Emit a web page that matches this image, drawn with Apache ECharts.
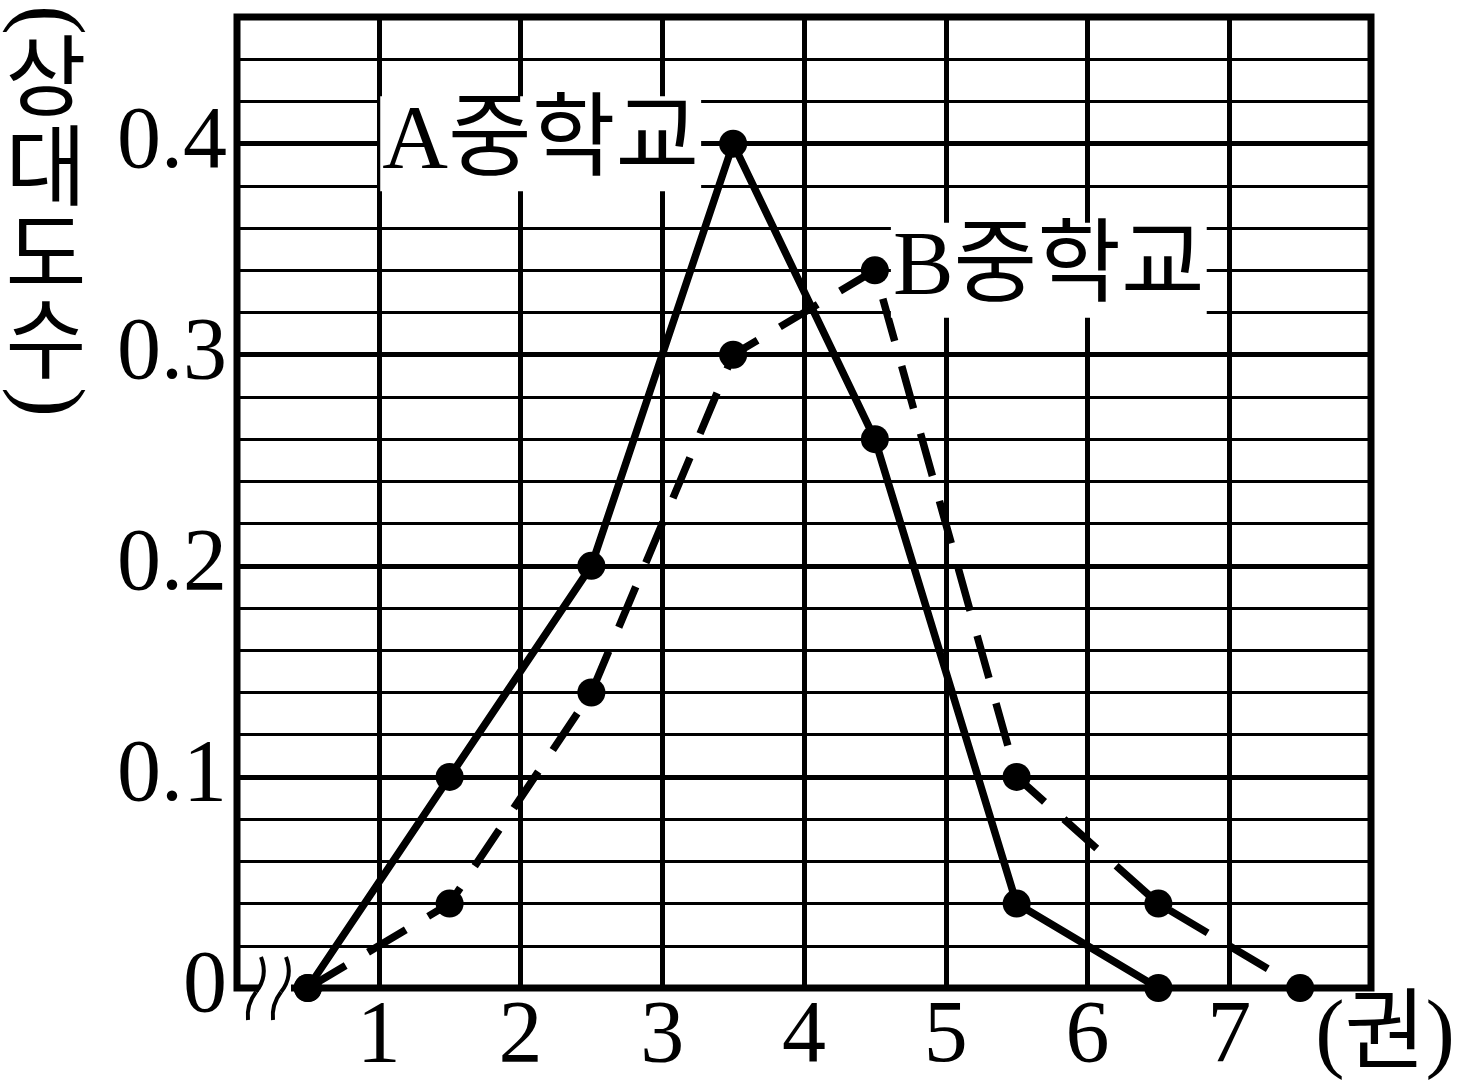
<!DOCTYPE html>
<html><head><meta charset="utf-8">
<script src="https://cdn.jsdelivr.net/npm/echarts@6/dist/echarts.min.js"></script>
<style>html,body{margin:0;padding:0;background:#fff}#c{width:1466px;height:1092px}</style>
</head><body><div id="c"></div>
<script>
// ---- data ----
const classMarks = [0.5, 1.5, 2.5, 3.5, 4.5, 5.5, 6.5, 7.5];
const schoolA = [0, 0.1, 0.2, 0.4, 0.26, 0.04, 0, null];
const schoolB = [0, 0.04, 0.14, 0.3, 0.34, 0.1, 0.04, 0];
const seriesNames = ['A중학교', 'B중학교'];
const xTickLabels = ['1', '2', '3', '4', '5', '6', '7'];
const yTickLabels = ['0', '0.1', '0.2', '0.3', '0.4'];
const yAxisTitle = ['상', '대', '도', '수'];
const xAxisTitle = '(권)';

const FONT = "'Liberation Serif','Noto Sans CJK KR',serif";
const chart = echarts.init(document.getElementById('c'), null, {renderer: 'canvas'});

function buildData(vals, labelPos, name, dist) {
  let maxI = 0;
  vals.forEach((v, i) => { if (v != null && v > vals[maxI]) maxI = i; });
  const out = [];
  vals.forEach((v, i) => {
    if (v == null) return;
    const item = {value: [classMarks[i], v]};
    if (i === maxI) {
      item.label = {
        show: true, position: labelPos, distance: dist, formatter: name,
        fontFamily: FONT, fontSize: 91, color: '#000',
        backgroundColor: '#fff', padding: [4, 2, 0, 2]
      };
    }
    out.push(item);
  });
  return out;
}

const option = {
  animation: false,
  backgroundColor: '#fff',
  grid: {left: 237, right: 95, top: 17, bottom: 104, show: true, borderWidth: 7, borderColor: '#000', backgroundColor: 'transparent', z: 3},
  xAxis: {
    type: 'value', min: 0, max: 8, interval: 1,
    axisLine: {show: false}, axisTick: {show: false},
    splitLine: {show: true, lineStyle: {color: '#000', width: 5}},
    axisLabel: {
      margin: 6, fontFamily: FONT, fontSize: 88, color: '#000',
      formatter: v => (v >= 1 && v <= 7 && Math.abs(v - Math.round(v)) < 1e-6) ? xTickLabels[Math.round(v) - 1] : ''
    }
  },
  yAxis: [{
    type: 'value', min: 0, max: 0.46, interval: 0.1,
    axisLine: {show: false}, axisTick: {show: false},
    splitLine: {show: true, lineStyle: {color: '#000', width: 5}},
    axisLabel: {
      margin: 10, fontFamily: FONT, fontSize: 88, color: '#000',
      formatter: v => {
        const k = Math.round(v * 10);
        if (Math.abs(v * 10 - k) < 1e-6 && k >= 0 && k < yTickLabels.length) return yTickLabels[k];
        return '';
      }
    }
  }, {
    type: 'value', min: 0, max: 0.46, interval: 0.02, position: 'left',
    axisLine: {show: false}, axisTick: {show: false}, axisLabel: {show: false},
    splitLine: {show: true, lineStyle: {color: '#000', width: 3}}
  }],
  series: [{
    name: seriesNames[1], type: 'line', z: 4,
    data: buildData(schoolB, 'right', seriesNames[1], 2),
    symbol: 'circle', symbolSize: 28,
    itemStyle: {color: '#000'},
    lineStyle: {color: '#000', width: 7.5, type: [44, 26], cap: 'butt'}
  }, {
    name: seriesNames[0], type: 'line', z: 5,
    data: buildData(schoolA, 'left', seriesNames[0], 18),
    symbol: 'circle', symbolSize: 28,
    itemStyle: {color: '#000'},
    lineStyle: {color: '#000', width: 7.5, type: 'solid'}
  }]
};
chart.setOption(option);

// decorations: axis titles and the axis-break mark near the origin
const o = chart.convertToPixel({gridIndex: 0}, [0, 0]);
const ox = o[0], oy = o[1];
const g = [];
const titleX = 46;
g.push({type: 'text', x: titleX, y: 20, rotation: -Math.PI / 2, style: {text: '(', font: "90px 'Liberation Serif'", fill: '#000', textAlign: 'center', textVerticalAlign: 'middle'}});
const ys = [75, 165, 252, 338];
yAxisTitle.forEach((ch, i) => {
  g.push({type: 'text', x: titleX, y: ys[i], style: {text: ch, font: "88px 'Noto Sans CJK KR'", fill: '#000', textAlign: 'center', textVerticalAlign: 'middle'}});
});
g.push({type: 'text', x: titleX, y: 402, rotation: -Math.PI / 2, style: {text: ')', font: "90px 'Liberation Serif'", fill: '#000', textAlign: 'center', textVerticalAlign: 'middle'}});
g.push({type: 'text', x: 1385, y: 1038, style: {text: xAxisTitle, font: "88px 'Liberation Serif','Noto Sans CJK KR'", fill: '#000', textAlign: 'center', textVerticalAlign: 'middle'}});
// axis break
g.push({type: 'rect', z: 10, shape: {x: ox + 22, y: oy - 6, width: 32, height: 12}, style: {fill: '#fff'}});
[0, 25].forEach(dx => {
  g.push({type: 'bezierCurve', z: 11, shape: {x1: ox + 24 + dx, y1: oy - 31, cpx1: ox + 29 + dx, cpy1: oy - 18, cpx2: ox + 27 + dx, cpy2: oy - 6, x2: ox + 19 + dx, y2: oy + 4},
    style: {fill: null, stroke: '#000', lineWidth: 4}});
  g.push({type: 'bezierCurve', z: 11, shape: {x1: ox + 19 + dx, y1: oy + 4, cpx1: ox + 12 + dx, cpy1: oy + 13, cpx2: ox + 10 + dx, cpy2: oy + 22, x2: ox + 11 + dx, y2: oy + 32},
    style: {fill: null, stroke: '#000', lineWidth: 4}});
});
chart.setOption({graphic: g});
</script></body></html>
